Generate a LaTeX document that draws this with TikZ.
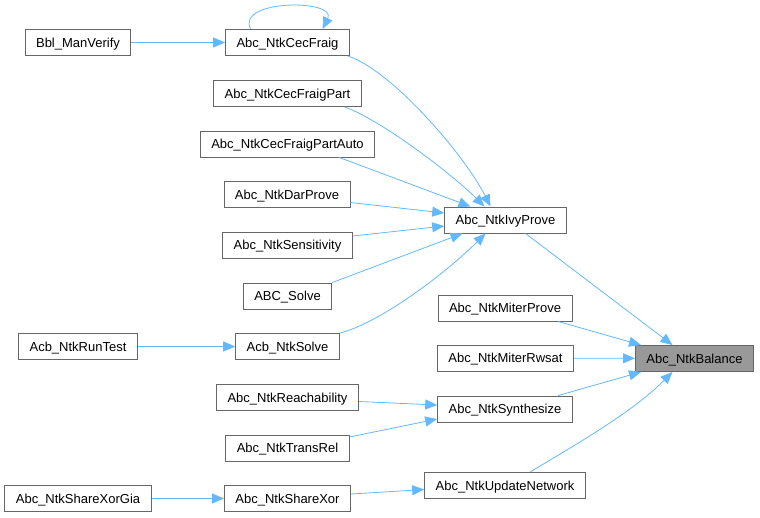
\documentclass[tikz,border=0pt]{standalone}
\usepackage{fontspec}
\setmainfont{Liberation Sans}
\usetikzlibrary{arrows.meta,calc}
\definecolor{edgeblue}{HTML}{63B8FF}
\definecolor{boxline}{HTML}{666666}
\definecolor{focusfill}{HTML}{999999}

\begin{document}
\begin{tikzpicture}[
  x=1pt, y=-1pt,
  fn/.style    = {rectangle, draw=boxline, fill=white, line width=0.9pt,
                  inner xsep=11pt, inner ysep=0pt, minimum height=26pt,
                  text height=12pt, text depth=2.8pt,
                  font=\fontsize{13}{15}\selectfont},
  fnH/.style   = {fn, fill=focusfill},
  arrow/.style = {-{Triangle[length=12pt,width=10pt]}, draw=edgeblue, line width=0.8pt}
]
\useasboundingbox (0,0) rectangle (760,517);

% callers, far left
\node[fn] (manverify)   at (78,42.5)   {Bbl\_ManVerify};
\node[fn] (runtest)     at (78,346.5)  {Acb\_NtkRunTest};
\node[fn] (sharexorgia) at (78,498.5)  {Abc\_NtkShareXorGia};

% middle column
\node[fn] (cecfraig)     at (287.5,42.5)  {Abc\_NtkCecFraig};
\node[fn] (cecpart)      at (287.5,93.5)  {Abc\_NtkCecFraigPart};
\node[fn] (cecpartauto)  at (287.5,144)   {Abc\_NtkCecFraigPartAuto};
\node[fn] (darprove)     at (287,194.5)   {Abc\_NtkDarProve};
\node[fn] (sensitivity)  at (287.5,245)   {Abc\_NtkSensitivity};
\node[fn] (abcsolve)     at (287.5,296)   {ABC\_Solve};
\node[fn] (acbsolve)     at (287.5,346.5) {Acb\_NtkSolve};
\node[fn] (reach)        at (287.5,397.5) {Abc\_NtkReachability};
\node[fn] (transrel)     at (287.5,448)   {Abc\_NtkTransRel};
\node[fn] (sharexor)     at (287.5,498.5) {Abc\_NtkShareXor};

% right column
\node[fn] (ivyprove)    at (505.5,220)   {Abc\_NtkIvyProve};
\node[fn] (miterprove)  at (505,308)     {Abc\_NtkMiterProve};
\node[fn] (miterrwsat)  at (505.5,358)   {Abc\_NtkMiterRwsat};
\node[fn] (synth)       at (505,409)     {Abc\_NtkSynthesize};
\node[fn] (update)      at (505,485.5)   {Abc\_NtkUpdateNetwork};

\node[fnH] (balance)    at (694.5,358.5) {Abc\_NtkBalance};

% edges
\draw[arrow] (manverify) -- (cecfraig);
\draw[arrow] ($(cecfraig.north)+(-37,0)$) .. controls +(-15,-30) and +(15,-30) .. ($(cecfraig.north)+(35,0)$);
\draw[arrow] ($(cecfraig.south east)+(-2,0)$) .. controls +(45,15) and +(-25,-50) .. ($(ivyprove.north)+(-15,0)$);
\draw[arrow] ($(cecpart.south east)+(-17,0)$) .. controls +(40,15) and +(-30,-30) .. ($(ivyprove.north)+(-21,0)$);
\draw[arrow] ($(cecpartauto.south east)+(-36,0)$) -- ($(ivyprove.north)+(-35,0)$);
\draw[arrow] ($(darprove.east)+(0,8)$) -- ($(ivyprove.west)+(0,-7)$);
\draw[arrow] ($(sensitivity.east)+(0,-9)$) -- ($(ivyprove.west)+(0,6)$);
\draw[arrow] (abcsolve.north east) -- ($(ivyprove.south)+(-43,0)$);
\draw[arrow] (acbsolve.north east) .. controls +(40,-10) and +(-40,40) .. ($(ivyprove.south)+(-20,0)$);
\draw[arrow] (runtest) -- (acbsolve);

\draw[arrow] ($(ivyprove.south)+(20,0)$) -- ($(balance.north)+(-22,0)$);
\draw[arrow] ($(miterprove.south)+(53,0)$) -- ($(balance.north west)+(6,0)$);
\draw[arrow] (miterrwsat) -- (balance);
\draw[arrow] ($(synth.north)+(53,0)$) -- ($(balance.south west)+(6,0)$);
\draw[arrow] ($(update.north)+(25,0)$) .. controls +(50,-30) and +(-40,40) .. ($(balance.south)+(-22,0)$);

\draw[arrow] ($(reach.east)+(0,4)$) -- ($(synth.west)+(0,-4)$);
\draw[arrow] ($(transrel.east)+(0,-11)$) -- ($(synth.west)+(0,10)$);
\draw[arrow] (sharexorgia) -- (sharexor);
\draw[arrow] ($(sharexor.east)+(0,-4.5)$) -- ($(update.west)+(0,4)$);

\end{tikzpicture}
\end{document}
